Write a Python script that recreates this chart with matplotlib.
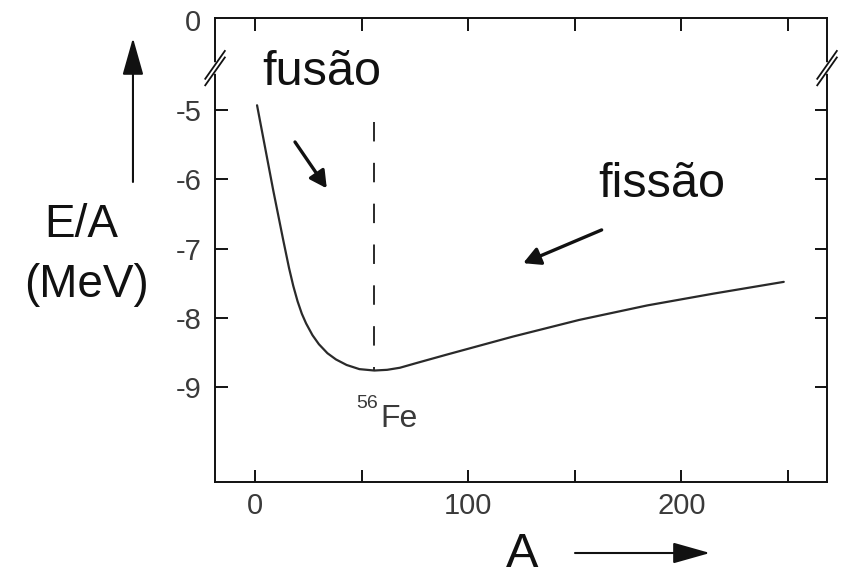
#!/usr/bin/python3
import numpy as np
import matplotlib as mpl
mpl.use('Agg')
import matplotlib.pyplot as plt

mpl.rcParams.update({'font.family': ['Liberation Sans', 'DejaVu Sans']})

mass_number = [1, 8.6, 13.3, 16, 18, 20, 22, 24, 27, 30, 34, 38, 43, 49, 56,
               62, 68, 76, 90, 121, 152, 184, 215, 248]
energy_per_nucleon = [-4.93, -6.16, -6.88, -7.28, -7.54, -7.76, -7.94, -8.08, -8.25,
                      -8.38, -8.51, -8.60, -8.68, -8.74, -8.76,
                      -8.75, -8.72, -8.65, -8.53, -8.27, -8.03, -7.82, -7.65, -7.48]

iron_a = 56
iron_dash_top = -5.17

x_ticks = [0, 50, 100, 150, 200, 250]
x_ticklabels = ['0', '', '100', '', '200', '']
y_ticks = [-9, -8, -7, -6, -5]
y_ticklabels = ['-9', '-8', '-7', '-6', '-5']

# arrows: (tail A, tail E) -> (head A, head E)
fusion_arrow = ((18.8, -5.46), (33.7, -6.13))
fission_arrow = ((162.6, -6.73), (125.8, -7.21))

INK = '#111111'
TICK_INK = '#3a3a3a'


def draw_break(ax, x):
    # small "//" marks across a spine to show the cut in the energy axis
    y = 0.892
    ax.plot([x, x], [y - 0.007, y + 0.007], color='white', lw=4,
            transform=ax.transAxes, clip_on=False, zorder=5)
    for dy in (-0.007, 0.007):
        ax.plot([x - 0.016, x + 0.016], [y + dy - 0.03, y + dy + 0.03],
                color=INK, lw=1.3, transform=ax.transAxes, clip_on=False, zorder=6)


def plot_binding(save_path):
    fig = plt.figure(figsize=(8.41, 5.79), dpi=100)
    ax = fig.add_axes([0.2557, 0.1675, 0.7277, 0.8014])

    ax.plot(mass_number, energy_per_nucleon, color='#2a2a2a', lw=1.6,
            solid_capstyle='round', solid_joinstyle='round')
    ax.plot([iron_a, iron_a], [iron_dash_top, min(energy_per_nucleon)],
            color='#2a2a2a', lw=1.4, linestyle=(0, (10, 11)))

    ax.set_xlim(-18.7, 268.3)
    ax.set_ylim(-10.37, -3.67)

    ax.set_xticks(x_ticks)
    ax.set_xticklabels(x_ticklabels)
    ax.set_yticks(y_ticks)
    ax.set_yticklabels(y_ticklabels)
    ax.tick_params(axis='x', direction='in', length=9, width=1.3, top=True,
                   labelsize=21, labelcolor=TICK_INK, pad=7)
    ax.tick_params(axis='y', direction='in', length=9, width=1.3, right=True,
                   labelsize=21, labelcolor=TICK_INK, pad=10)
    for sp in ax.spines.values():
        sp.set_linewidth(1.4)
        sp.set_color(INK)

    ax.text(-0.023, 0.989, '0', transform=ax.transAxes, ha='right', va='center',
            fontsize=21, color=TICK_INK)
    draw_break(ax, 0.0)
    draw_break(ax, 1.0)

    ax.text(31.5, -4.64, 'fusão', ha='center', va='baseline', fontsize=35, color=INK)
    ax.text(191, -6.26, 'fissão', ha='center', va='baseline', fontsize=35, color=INK)

    ax.text(58.6, -9.58, 'Fe', ha='left', va='baseline', fontsize=23, color=TICK_INK)
    ax.text(57.7, -9.30, '56', ha='right', va='baseline', fontsize=14, color=TICK_INK)

    for tail, head in (fusion_arrow, fission_arrow):
        ax.annotate('', xy=head, xytext=tail,
                    arrowprops=dict(arrowstyle='-|>,head_length=0.6,head_width=0.32',
                                    mutation_scale=17, lw=2.4, color=INK,
                                    shrinkA=0, shrinkB=0))

    # axis names sit outside the frame, each with a direction arrow
    fig.text(0.0963, 0.5907, 'E/A', ha='center', va='baseline', fontsize=33, color=INK)
    fig.text(0.1023, 0.487, '(MeV)', ha='center', va='baseline', fontsize=33, color=INK)
    fig.text(0.6213, 0.003, 'A', ha='center', va='bottom', fontsize=35, color=INK)

    big_head = '-|>,head_length=2.3,head_width=0.65'
    fig.add_artist(mpl.patches.FancyArrowPatch(
        (0.1581, 0.6857), (0.1581, 0.9344), transform=fig.transFigure,
        arrowstyle=big_head, mutation_scale=10, lw=1.5, color=INK,
        shrinkA=0, shrinkB=0))
    fig.add_artist(mpl.patches.FancyArrowPatch(
        (0.6837, 0.0449), (0.8442, 0.0449), transform=fig.transFigure,
        arrowstyle=big_head, mutation_scale=10, lw=1.5, color=INK,
        shrinkA=0, shrinkB=0))

    fig.savefig(save_path, dpi=100)
    plt.close(fig)


if __name__ == "__main__":
    plot_binding("out.png")
